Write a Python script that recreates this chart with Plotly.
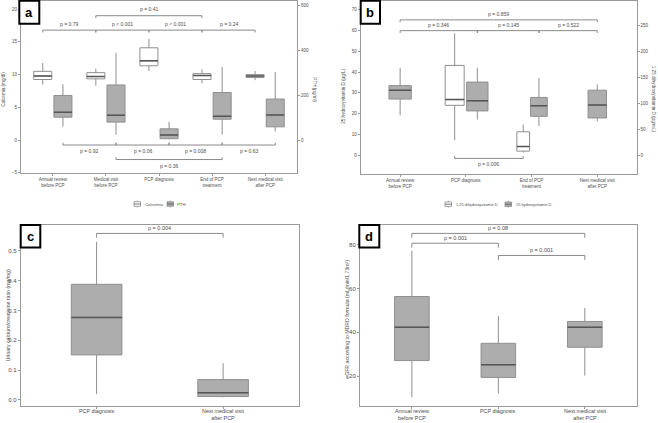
import plotly.graph_objects as go

# ---------------- data ----------------
# Panel a
cats_a = ["Annual review<br>before PCP", "Medical visit<br>before PCP", "PCP diagnosis",
          "End of PCP<br>treatment", "Next medical visit<br>after PCP"]
ca_low = [8.5, 8.3, 10.55, 8.65, 9.15]
ca_q1 = [9.25, 9.35, 11.35, 9.25, 9.55]
ca_med = [9.8, 9.7, 12.1, 9.85, 9.8]
ca_q3 = [10.5, 10.3, 14.1, 10.15, 10.0]
ca_high = [11.8, 10.9, 15.45, 10.8, 10.55]
pth_low = [60, 24, 4, 24, 38]
pth_q1 = [102, 80, 6, 93, 59]
pth_med = [124, 111, 22, 106, 112]
pth_q3 = [199, 246, 50, 212, 183]
pth_high = [249, 389, 81, 326, 304]
p_a_top = ["p = 0.79", "p < 0.001", "p < 0.001", "p = 0.24"]
p_a_top2 = "p = 0.41"
p_a_bot = ["p = 0.92", "p = 0.06", "p = 0.008", "p = 0.63"]
p_a_bot2 = "p = 0.36"

# Panel b
cats_b = ["Annual review<br>before PCP", "PCP diagnosis", "End of PCP<br>treatment",
          "Next medical visit<br>after PCP"]
d25_low = [19.2, 17.1, 14.0, 16.2]
d25_q1 = [27.0, 21.3, 18.7, 17.9]
d25_med = [31.3, 26.2, 23.8, 24.1]
d25_q3 = [33.5, 35.2, 27.8, 31.3]
d25_high = [42.1, 42.1, 37.1, 34.1]
d125_cats = [1, 2]  # indices into cats_b
d125_low = [29, 5]
d125_q1 = [96, 7.6]
d125_med = [107, 16.5]
d125_q3 = [173, 45]
d125_high = [235, 59]
p_b_top = "p = 0.859"
p_b_row = ["p = 0.346", "p = 0.145", "p = 0.522"]
p_b_bot = "p = 0.006"

# Panel c
cats_c = ["PCP diagnosis", "Next medical visit<br>after PCP"]
uc_low = [0.02, 0.009]
uc_q1 = [0.151, 0.011]
uc_med = [0.277, 0.024]
uc_q3 = [0.388, 0.068]
uc_high = [0.531, 0.123]
p_c = "p = 0.004"

# Panel d
cats_d = ["Annual review<br>before PCP", "PCP diagnosis", "Next medical visit<br>after PCP"]
eg_low = [10.3, 12.1, 20.2]
eg_q1 = [27.1, 19.4, 33.2]
eg_med = [42.4, 25.2, 42.4]
eg_q3 = [56.4, 35.0, 45.0]
eg_high = [77.4, 47.4, 51.2]
p_d = ["p = 0.08", "p = 0.001", "p = 0.001"]

# ---------------- styles ----------------
FONT = "Liberation Sans, Arial, sans-serif"
GREY_FILL = "#adadad"
BOX_LINE = "#8f8f8f"
MED_LINE = "#555555"
BORDER = "#9a9a9a"
TXT = "#4d4d4d"
BR = "#8a8a8a"
K_A = 29.2   # PTH / calcemia secondary scale
K_B = 4.0    # 1,25-D / 25-D secondary scale
YA = [-5, 21.25]
YB = [-9, 74.3]

fig = go.Figure()
shapes = []
annos = []


def add_box(xa, ya, xs, low, q1, med, q3, high, width, fill):
    fig.add_trace(go.Box(
        x=xs, lowerfence=low, q1=q1, median=med, q3=q3, upperfence=high,
        width=width, fillcolor=fill, line=dict(color=BOX_LINE, width=1),
        whiskerwidth=0, boxpoints=False, showlegend=False, hoverinfo="skip",
        xaxis=xa, yaxis=ya))
    for x, m in zip(xs, med):
        shapes.append(dict(type="line", xref=xa, yref=ya, x0=x - width / 2, x1=x + width / 2,
                           y0=m, y1=m, line=dict(color=MED_LINE, width=1.5)))


def bracket(xa, ya, x0, x1, y, tip, text, ty, yanchor, size=5):
    shapes.append(dict(type="line", xref=xa, yref=ya, x0=x0, x1=x1, y0=y, y1=y,
                       line=dict(color=BR, width=1)))
    for x in (x0, x1):
        shapes.append(dict(type="line", xref=xa, yref=ya, x0=x, x1=x, y0=y, y1=y + tip,
                           line=dict(color=BR, width=1)))
    annos.append(dict(xref=xa, yref=ya, x=(x0 + x1) / 2, y=ty, text=text, showarrow=False,
                      yanchor=yanchor, font=dict(size=size, color=TXT, family=FONT)))


# ---- Panel a ----
pos_a = list(range(1, len(cats_a) + 1))
DA = 0.19
WA = 0.34
ca_x = [p - DA for p in pos_a]
pth_x = [p + DA for p in pos_a]
add_box("x", "y", ca_x, ca_low, ca_q1, ca_med, ca_q3, ca_high, WA, "white")
add_box("x", "y2", pth_x, pth_low, pth_q1, pth_med, pth_q3, pth_high, WA, GREY_FILL)
for i, t in enumerate(p_a_top):
    bracket("x", "y", ca_x[i], ca_x[i + 1], 16.8, -0.35, t, 17.0, "bottom")
bracket("x", "y", ca_x[1], ca_x[3], 19.0, -0.35, p_a_top2, 19.2, "bottom")
for i, t in enumerate(p_a_bot):
    bracket("x", "y", pth_x[i], pth_x[i + 1], -0.76, 0.35, t, -0.95, "top")
bracket("x", "y", pth_x[1], pth_x[3], -2.98, 0.35, p_a_bot2, -3.15, "top")

# ---- Panel b ----
pos_b = list(range(1, len(cats_b) + 1))
g_off = [0.0, 0.175, 0.112, 0.0]
g_w = [0.34, 0.325, 0.254, 0.28]
w_off = [-0.17, -0.127]
w_w = [0.289, 0.193]
g_x = [p + o for p, o in zip(pos_b, g_off)]
for i in range(len(pos_b)):
    add_box("x2", "y3", [g_x[i]], [d25_low[i]], [d25_q1[i]], [d25_med[i]], [d25_q3[i]],
            [d25_high[i]], g_w[i], GREY_FILL)
w_x = []
for j, ci in enumerate(d125_cats):
    xx = pos_b[ci] + w_off[j]
    w_x.append(xx)
    add_box("x2", "y4", [xx], [d125_low[j]], [d125_q1[j]], [d125_med[j]], [d125_q3[j]],
            [d125_high[j]], w_w[j], "white")
bracket("x2", "y3", g_x[0], g_x[3], 65.2, -1.1, p_b_top, 65.6, "bottom")
for i, t in enumerate(p_b_row):
    bracket("x2", "y3", g_x[i], g_x[i + 1], 60.0, -1.1, t, 60.4, "bottom")
bracket("x2", "y3", w_x[0], w_x[1], -1.6, 1.1, p_b_bot, -1.9, "top")

# ---- Panel c ----
pos_c = list(range(1, len(cats_c) + 1))
add_box("x3", "y5", pos_c, uc_low, uc_q1, uc_med, uc_q3, uc_high, 0.4, GREY_FILL)
bracket("x3", "y5", pos_c[0], pos_c[1], 0.559, -0.014, p_c, 0.562, "bottom", 5.5)

# ---- Panel d ----
pos_d = list(range(1, len(cats_d) + 1))
add_box("x4", "y6", pos_d, eg_low, eg_q1, eg_med, eg_q3, eg_high, 0.4, GREY_FILL)
bracket("x4", "y6", pos_d[0], pos_d[2], 85.3, -2.0, p_d[0], 85.6, "bottom", 5.5)
bracket("x4", "y6", pos_d[0], pos_d[1], 80.8, -2.0, p_d[1], 81.1, "bottom", 5.5)
bracket("x4", "y6", pos_d[1], pos_d[2], 75.2, -2.0, p_d[2], 75.5, "bottom", 5.5)

# category labels for the lower panels, as annotations just under the axis
for xa, pos, cats in (("x3", pos_c, cats_c), ("x4", pos_d, cats_d)):
    for p, c in zip(pos, cats):
        annos.append(dict(xref=xa, yref="paper", x=p, y=1 - 409.3 / 423, text=c,
                          showarrow=False, xanchor="center", yanchor="top",
                          font=dict(size=5.4, color=TXT, family=FONT)))

# ---------------- axes ----------------
def xax(domain, anchor, rng, vals, text, size, show=True):
    return dict(domain=domain, anchor=anchor, range=rng, tickvals=vals, ticktext=text,
                showticklabels=show,
                showline=True, mirror=True, linecolor=BORDER, linewidth=1, ticks="outside",
                ticklen=2, tickcolor=BORDER, showgrid=False, zeroline=False,
                tickfont=dict(size=size, color=TXT, family=FONT))


def yax(domain, anchor, rng, size, **kw):
    d = dict(domain=domain, anchor=anchor, range=rng, showline=True, mirror=True,
             linecolor=BORDER, linewidth=1, ticks="outside", ticklen=2, tickcolor=BORDER,
             showgrid=False, zeroline=False, tickfont=dict(size=size, color=TXT, family=FONT))
    d.update(kw)
    return d


dom_top = [1 - 174 / 423, 1 - 1 / 423]
dom_top_b = [1 - 175 / 423, 1 - 1 / 423]
dom_bot = [1 - 408.7 / 423, 1 - 226.7 / 423]
fig.update_layout(
    xaxis=xax([21 / 658, 297 / 658], "y", [0.4, 5.6], pos_a, cats_a, 4.5),
    yaxis=yax(dom_top, "x", YA, 4.5, tickvals=[-5, 0, 5, 10, 15, 20]),
    yaxis2=yax(dom_top, "x", [YA[0] * K_A, YA[1] * K_A], 4.5, overlaying="y", side="right",
               tickvals=[0, 200, 400, 600]),
    xaxis2=xax([360.7 / 658, 636.7 / 658], "y3", [0.4, 4.6], pos_b, cats_b, 4.5),
    yaxis3=yax(dom_top_b, "x2", YB, 4.5, tickvals=[0, 10, 20, 30, 40, 50, 60, 70]),
    yaxis4=yax(dom_top_b, "x2", [YB[0] * K_B, YB[1] * K_B], 4.5, overlaying="y3", side="right",
               tickvals=[0, 50, 100, 150, 200, 250]),
    xaxis3=xax([20.7 / 658, 299 / 658], "y5", [0.4, 2.6], pos_c, cats_c, 6, show=False),
    yaxis5=yax(dom_bot, "x3", [-0.02, 0.587], 6, tickvals=[0, 0.1, 0.2, 0.3, 0.4, 0.5],
               tickformat=".1f"),
    xaxis4=xax([360 / 658, 636.7 / 658], "y6", [0.4, 3.6], pos_d, cats_d, 6, show=False),
    yaxis6=yax(dom_bot, "x4", [6.4, 89.1], 6, tickvals=[20, 40, 60, 80]),
)

# axis titles
def title(x, y, text, angle, size=4.6):
    annos.append(dict(xref="paper", yref="paper", x=x / 658, y=1 - y / 423, text=text,
                      showarrow=False, textangle=angle, xanchor="center", yanchor="middle",
                      font=dict(size=size, color=TXT, family=FONT)))

title(3.5, 90, "Calcemia (mg/dl)", -90)
title(315, 90, "PTH (pg/ml)", 90)
title(343.5, 97, "25 hydroxyvitamin D (µg/L)", -90)
title(653.5, 100, "1,25 dihydroxyvitamin D (pg/mL)", 90)
title(7.5, 318, "Urinary calcium/creatinine ratio (mg/mg)", -90, 5.2)
title(347, 322, "eGFR according to MDRD formula (mL/min/1.73m²)", -90, 5.2)

# panel labels
for lab, x0, x1, y0, y1 in [("a", 19.3, 39.3, 0.8, 24), ("b", 360.7, 380, 0.8, 24),
                            ("c", 20.7, 40.3, 226.7, 249.3), ("d", 359.3, 379.3, 226.7, 249.3)]:
    shapes.append(dict(type="rect", xref="paper", yref="paper", x0=x0 / 658, x1=x1 / 658,
                       y0=1 - y1 / 423, y1=1 - y0 / 423, fillcolor="white",
                       line=dict(color="black", width=2), layer="above"))
    annos.append(dict(xref="paper", yref="paper", x=(x0 + x1) / 2 / 658,
                      y=1 - (y0 + y1) / 2 / 423, text="<b>%s</b>" % lab, showarrow=False,
                      xanchor="center", yanchor="middle",
                      font=dict(size=13, color="black", family=FONT)))

# legends (drawn as key glyphs)
def key(x0, yc, fill):
    w, h = 6.5, 4.6
    shapes.append(dict(type="rect", xref="paper", yref="paper", x0=x0 / 658, x1=(x0 + w) / 658,
                       y0=1 - (yc + h / 2) / 423, y1=1 - (yc - h / 2) / 423, fillcolor=fill,
                       line=dict(color=BOX_LINE, width=0.8)))
    shapes.append(dict(type="line", xref="paper", yref="paper", x0=x0 / 658, x1=(x0 + w) / 658,
                       y0=1 - yc / 423, y1=1 - yc / 423, line=dict(color=MED_LINE, width=0.8)))
    shapes.append(dict(type="line", xref="paper", yref="paper", x0=(x0 + w / 2) / 658,
                       x1=(x0 + w / 2) / 658, y0=1 - (yc + h / 2 + 1.2) / 423,
                       y1=1 - (yc + h / 2) / 423, line=dict(color=BOX_LINE, width=0.8)))
    shapes.append(dict(type="line", xref="paper", yref="paper", x0=(x0 + w / 2) / 658,
                       x1=(x0 + w / 2) / 658, y0=1 - (yc - h / 2) / 423,
                       y1=1 - (yc - h / 2 - 1.2) / 423, line=dict(color=BOX_LINE, width=0.8)))


def ltext(x, yc, text, size=4.3):
    annos.append(dict(xref="paper", yref="paper", x=x / 658, y=1 - yc / 423, text=text,
                      showarrow=False, xanchor="left", yanchor="middle",
                      font=dict(size=size, color=TXT, family=FONT)))

key(134, 205.5, "white"); ltext(143, 205.5, "Calcemia")
key(167, 205.5, GREY_FILL); ltext(175, 205.5, "PTH")
key(445, 205.7, "white"); ltext(454, 205.7, "1,25 dihydroxyvitamin D", 3.9)
key(505, 205.7, GREY_FILL); ltext(514, 205.7, "25 hydroxyvitamin D", 3.9)

fig.update_layout(width=658, height=423, margin=dict(l=0, r=0, t=0, b=0),
                  paper_bgcolor="white", plot_bgcolor="white", showlegend=False,
                  boxmode="overlay", shapes=shapes, annotations=annos,
                  font=dict(family=FONT, color=TXT))
fig.write_html("out.html", config={"displayModeBar": False, "staticPlot": True},
               post_script="document.body.style.margin='0';document.body.style.overflow='hidden';")
